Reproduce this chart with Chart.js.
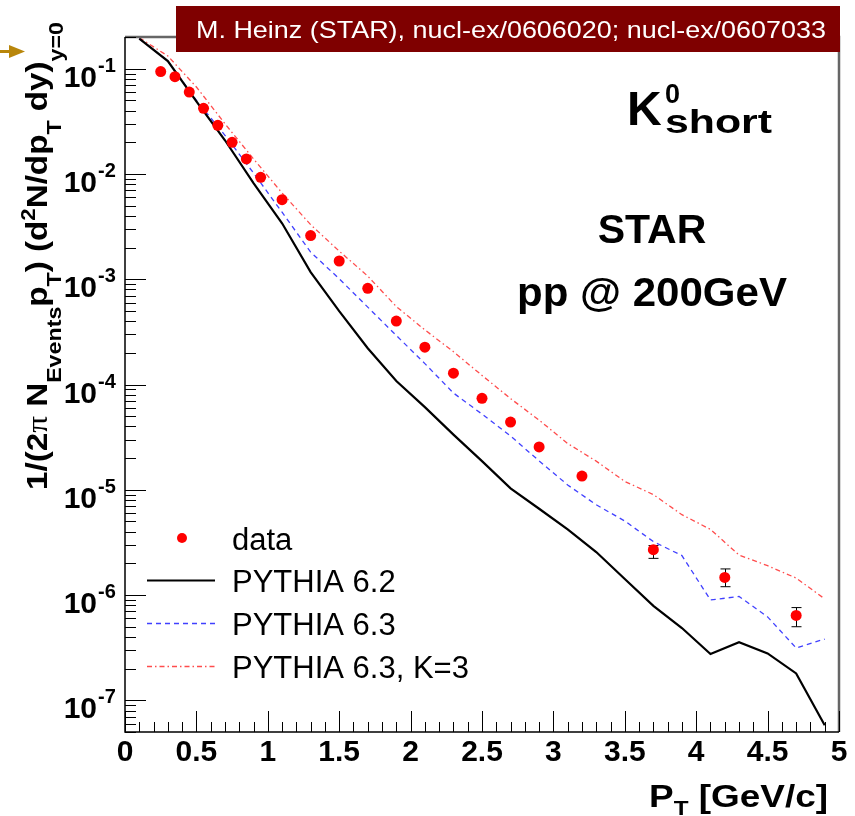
<!DOCTYPE html>
<html>
<head>
<meta charset="utf-8">
<script src="https://cdn.jsdelivr.net/npm/chart.js@4.4.1/dist/chart.umd.min.js"></script>
<style>
  body { margin: 0; background: #fff; }
  #wrap { width: 855px; height: 816px; }
</style>
</head>
<body>
<div id="wrap"><canvas id="c" width="855" height="816"></canvas></div>
<script>
// K0short pT spectrum, STAR pp 200 GeV vs PYTHIA
const dataPt = [0.25, 0.35, 0.45, 0.55, 0.65, 0.75, 0.85, 0.95, 1.1, 1.3, 1.5, 1.7, 1.9, 2.1, 2.3, 2.5, 2.7, 2.9, 3.2, 3.7, 4.2, 4.7];
const dataY = [0.094, 0.084, 0.060, 0.042, 0.029, 0.020, 0.0139, 0.0093, 0.0057, 0.0026, 0.00149, 0.00082, 0.00040, 0.000226,
  0.000128, 0.000074, 0.000044, 0.0000255, 0.0000135, 0.0000027, 0.00000147, 0.00000064];
// error bar ends (null = hidden under the marker)
const errLo = [null, null, null, null, null, null, null, null, null, null, null, null, null, null, null, null, null, null, null, 0.00000223, 0.0000012, 0.0000005];
const errHi = [null, null, null, null, null, null, null, null, null, null, null, null, null, null, null, null, null, null, null, 0.00000295, 0.00000177, 0.00000076];

const pythiaPt = [0.1, 0.3, 0.5, 0.7, 0.9, 1.1, 1.3, 1.5, 1.7, 1.9, 2.1, 2.3, 2.5, 2.7, 2.9, 3.1, 3.3, 3.5, 3.7, 3.9, 4.1, 4.3, 4.5, 4.7, 4.9];
const pythia62 = [0.193, 0.118, 0.049, 0.0209, 0.0082, 0.0034, 0.00117, 0.000498, 0.000221, 0.000108, 0.000061, 0.0000334, 0.0000187,
  0.0000103, 0.0000066, 0.0000042, 0.00000256, 0.00000142, 0.00000079, 0.000000486, 0.000000275, 0.000000356, 0.000000279, 0.00000018, 0.000000058];
const pythia63 = [0.193, 0.118, 0.050, 0.0233, 0.0102, 0.00433, 0.00181, 0.00101, 0.000543, 0.000292, 0.000158, 0.000083, 0.0000524,
  0.0000324, 0.0000188, 0.0000111, 0.0000072, 0.00000505, 0.00000322, 0.00000237, 0.000000897, 0.00000097, 0.00000062, 0.000000314, 0.000000382];
const pythia63K3 = [0.197, 0.132, 0.067, 0.030, 0.0139, 0.0066, 0.0033, 0.00185, 0.00107, 0.00055, 0.00033, 0.000205, 0.000122,
  0.0000735, 0.0000459, 0.0000275, 0.0000187, 0.0000120, 0.0000090, 0.0000058, 0.0000042, 0.0000024, 0.0000019, 0.00000145, 0.00000092];

const seriesLabels = ['data', 'PYTHIA 6.2', 'PYTHIA 6.3', 'PYTHIA 6.3, K=3'];
const xTickLabels = ['0', '0.5', '1', '1.5', '2', '2.5', '3', '3.5', '4', '4.5', '5'];
const yDecades = [-1, -2, -3, -4, -5, -6, -7];

const SANS = '"Liberation Sans", Arial, sans-serif';

const pts = (xs, ys) => xs.map((x, i) => ({ x: x, y: ys[i] }));

// text made of pieces [{t, size, dy, bold, font}]
function runWidth(ctx, runs) {
    let w = 0;
    runs.forEach(r => {
        ctx.font = `${r.bold === false ? '' : 'bold '}${r.size}px ${r.font || SANS}`;
        w += ctx.measureText(r.t).width;
    });
    return w;
}
function drawRuns(ctx, runs) {
    let x = 0;
    runs.forEach(r => {
        ctx.font = `${r.bold === false ? '' : 'bold '}${r.size}px ${r.font || SANS}`;
        ctx.fillText(r.t, x, r.dy || 0);
        x += ctx.measureText(r.t).width;
    });
}
// draw runs squeezed/stretched to span x0..x1
function fitRuns(ctx, runs, x0, x1, y) {
    const w = runWidth(ctx, runs);
    ctx.save();
    ctx.translate(x0, y);
    ctx.scale((x1 - x0) / w, 1);
    drawRuns(ctx, runs);
    ctx.restore();
}

const rootPlugin = {
    id: 'rootStyle',
    beforeDatasetsDraw(chart) {
        const ctx = chart.ctx;
        const xs = chart.scales.x, ys = chart.scales.y;
        ctx.save();
        ctx.strokeStyle = '#000';
        ctx.lineWidth = 1;
        dataPt.forEach((p, i) => {
            if (errLo[i] == null) return;
            const x = Math.round(xs.getPixelForValue(p)) + 0.5;
            const y1 = ys.getPixelForValue(errLo[i]);
            const y2 = ys.getPixelForValue(errHi[i]);
            ctx.beginPath();
            ctx.moveTo(x, y1); ctx.lineTo(x, y2);
            ctx.moveTo(x - 5, y1); ctx.lineTo(x + 5, y1);
            ctx.moveTo(x - 5, y2); ctx.lineTo(x + 5, y2);
            ctx.stroke();
        });
        ctx.restore();
    },
    afterDraw(chart) {
        const ctx = chart.ctx;
        const a = chart.chartArea;
        const xs = chart.scales.x, ys = chart.scales.y;
        ctx.save();

        // frame
        ctx.lineWidth = 2.5;
        ctx.strokeStyle = '#666';
        ctx.beginPath();
        ctx.moveTo(a.left, a.top); ctx.lineTo(a.right, a.top); ctx.lineTo(a.right, a.bottom);
        ctx.stroke();
        ctx.lineWidth = 1.5;
        ctx.strokeStyle = '#000';
        ctx.beginPath();
        ctx.moveTo(a.left, a.top); ctx.lineTo(a.left, a.bottom); ctx.lineTo(a.right, a.bottom);
        ctx.stroke();

        // x ticks (inward)
        ctx.lineWidth = 1;
        ctx.beginPath();
        for (let i = 0; i <= 50; i++) {
            const x = Math.round(xs.getPixelForValue(i / 10)) + 0.5;
            const len = i % 5 === 0 ? 21 : 10;
            ctx.moveTo(x, a.bottom); ctx.lineTo(x, a.bottom - len);
        }
        // y ticks (inward)
        for (let e = -8; e <= 0; e++) {
            for (let m = 1; m <= 9; m++) {
                const v = m * Math.pow(10, e);
                if (v < ys.min || v > ys.max) continue;
                const y = Math.round(ys.getPixelForValue(v)) + 0.5;
                const len = m === 1 ? 21 : 11;
                ctx.moveTo(a.left, y); ctx.lineTo(a.left + len, y);
            }
        }
        ctx.stroke();

        // tick labels
        ctx.fillStyle = '#000';
        ctx.textBaseline = 'alphabetic';
        ctx.font = `bold 30px ${SANS}`;
        ctx.textAlign = 'center';
        xTickLabels.forEach(l => {
            ctx.fillText(l, xs.getPixelForValue(parseFloat(l)), 761);
        });
        yDecades.forEach(e => {
            const y = ys.getPixelForValue(Math.pow(10, e));
            ctx.textAlign = 'right';
            ctx.font = `bold 30px ${SANS}`;
            ctx.fillText('10', 97, y + 18);
            ctx.textAlign = 'left';
            ctx.font = `bold 20px ${SANS}`;
            ctx.fillText(String(e), 98, y + 3);
        });

        // x title
        ctx.textAlign = 'left';
        fitRuns(ctx, [{ t: 'P', size: 32 }, { t: 'T', size: 21, dy: 8 }, { t: ' [GeV/c]', size: 32 }], 649, 828, 807);

        // y title (rotated)
        const yt = [
            { t: '1/(2', size: 30 }, { t: 'π', size: 30, bold: false, font: '"Liberation Serif", serif' },
            { t: ' N', size: 30 }, { t: 'Events', size: 21, dy: 14 }, { t: 'p', size: 30 }, { t: 'T', size: 21, dy: 14 },
            { t: ') (d', size: 30 }, { t: '2', size: 20, dy: -12 }, { t: 'N/dp', size: 30 }, { t: 'T', size: 21, dy: 14 },
            { t: ' dy)', size: 30 }, { t: 'y=0', size: 21, dy: 16 }
        ];
        ctx.save();
        ctx.translate(47, 0);
        ctx.rotate(-Math.PI / 2);
        fitRuns(ctx, yt, -490, -22, 0);
        ctx.restore();

        // K0 short, STAR, pp @ 200GeV
        ctx.font = `bold 48px ${SANS}`;
        ctx.fillText('K', 627, 125);
        ctx.font = `bold 27px ${SANS}`;
        ctx.fillText('0', 665, 103);
        fitRuns(ctx, [{ t: 'short', size: 34 }], 665, 772, 133);
        ctx.textAlign = 'center';
        ctx.font = `bold 41px ${SANS}`;
        ctx.fillText('STAR', 652, 243);
        ctx.textAlign = 'left';
        fitRuns(ctx, [{ t: 'pp @ 200GeV', size: 41 }], 517, 787, 306);

        // legend
        const ds = chart.data.datasets;
        const rows = [538, 580, 623, 666];
        ctx.font = `31px ${SANS}`;
        ds.forEach((d, i) => {
            const cy = rows[i];
            if (i === 0) {
                ctx.fillStyle = d.backgroundColor;
                ctx.beginPath();
                ctx.arc(182, cy, 5, 0, Math.PI * 2);
                ctx.fill();
            } else {
                ctx.strokeStyle = d.borderColor;
                ctx.lineWidth = d.borderWidth;
                ctx.setLineDash(d.borderDash || []);
                ctx.beginPath();
                ctx.moveTo(147, cy + 0.5); ctx.lineTo(215, cy + 0.5);
                ctx.stroke();
                ctx.setLineDash([]);
            }
            ctx.fillStyle = '#000';
            ctx.font = `31px ${SANS}`;
            ctx.fillText(d.label, 232, cy + 12);
        });

        // reference banner
        ctx.fillStyle = '#7f0000';
        ctx.fillRect(176, 6, 664, 46);
        ctx.fillStyle = '#fff';
        fitRuns(ctx, [{ t: 'M. Heinz (STAR), nucl-ex/0606020; nucl-ex/0607033', size: 24, bold: false }], 196, 826, 38);

        // arrow
        ctx.fillStyle = '#b8860b';
        ctx.fillRect(0, 50, 12, 3);
        ctx.beginPath();
        ctx.moveTo(9, 45); ctx.lineTo(25, 51.5); ctx.lineTo(9, 58);
        ctx.closePath();
        ctx.fill();

        ctx.restore();
    }
};

new Chart(document.getElementById('c'), {
    type: 'line',
    data: {
        datasets: [
            {
                label: seriesLabels[0], data: pts(dataPt, dataY), showLine: false,
                pointRadius: 5.5, pointBackgroundColor: '#ff0000', backgroundColor: '#ff0000', pointBorderWidth: 0
            },
            {
                label: seriesLabels[1], data: pts(pythiaPt, pythia62), borderColor: '#000', borderWidth: 2.2,
                pointRadius: 0, tension: 0
            },
            {
                label: seriesLabels[2], data: pts(pythiaPt, pythia63), borderColor: 'rgba(0,0,255,0.75)', borderWidth: 1.3,
                borderDash: [5, 4], pointRadius: 0, tension: 0
            },
            {
                label: seriesLabels[3], data: pts(pythiaPt, pythia63K3), borderColor: 'rgba(255,0,0,0.7)', borderWidth: 1.3,
                borderDash: [5, 3, 1.5, 3], pointRadius: 0, tension: 0
            }
        ]
    },
    options: {
        responsive: false,
        animation: false,
        layout: { padding: { left: 125, right: 16, top: 37, bottom: 84 } },
        plugins: { legend: { display: false }, tooltip: { enabled: false } },
        scales: {
            x: { type: 'linear', min: 0, max: 5, display: false },
            y: { type: 'logarithmic', min: 5e-8, max: 0.2, display: false }
        }
    },
    plugins: [rootPlugin]
});
</script>
</body>
</html>
